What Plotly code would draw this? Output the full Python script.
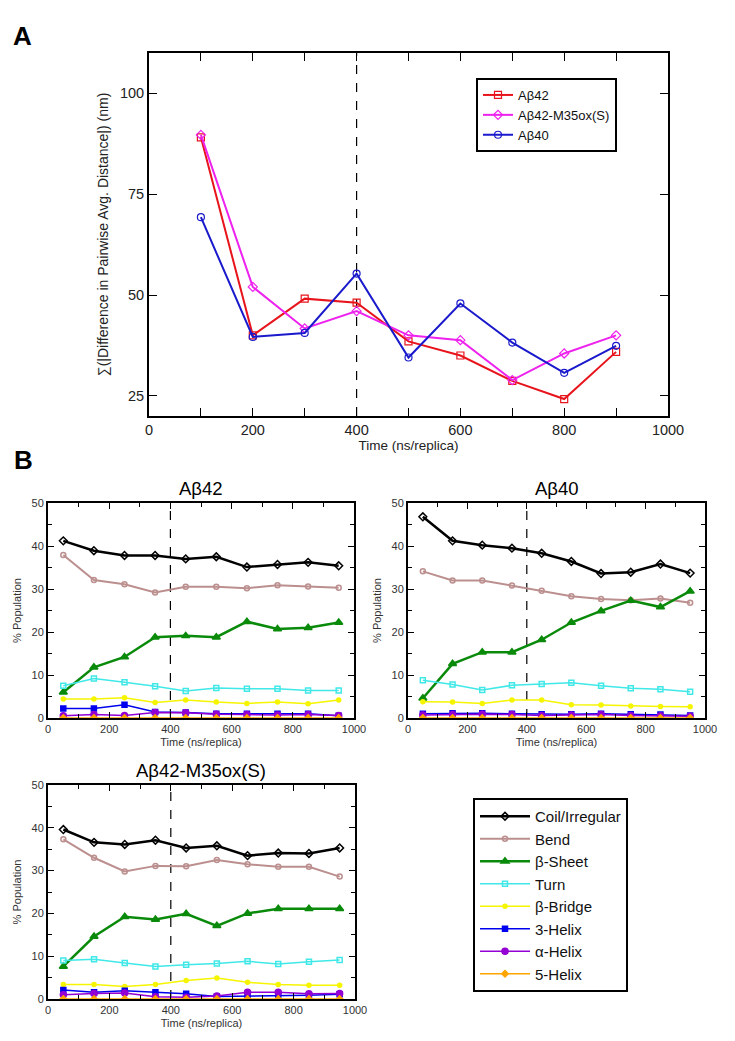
import plotly.graph_objects as go

# ---------------- Panel A data ----------------
a_time = [100, 200, 300, 400, 500, 600, 700, 800, 900]
a_ab42 = [89.1, 40.0, 49.1, 48.1, 38.5, 35.0, 28.7, 24.2, 35.9]
a_m35 = [89.7, 52.0, 41.7, 46.0, 40.0, 38.8, 28.9, 35.5, 40.0]
a_ab40 = [69.3, 39.6, 40.6, 55.3, 34.5, 47.9, 38.2, 30.7, 37.4]

# ---------------- Panel B data ----------------
b_time = [50, 150, 250, 350, 450, 550, 650, 750, 850, 950]

ab42 = {
    "Coil/Irregular": [41.2, 38.9, 37.8, 37.8, 37.0, 37.5, 35.1, 35.7, 36.2, 35.4],
    "Bend": [37.9, 32.1, 31.1, 29.2, 30.5, 30.5, 30.2, 30.9, 30.6, 30.3],
    "β-Sheet": [6.0, 11.8, 14.2, 18.8, 19.1, 18.8, 22.4, 20.7, 21.0, 22.2],
    "Turn": [7.5, 9.2, 8.3, 7.4, 6.3, 7.0, 6.8, 6.8, 6.4, 6.4],
    "β-Bridge": [4.4, 4.4, 4.7, 3.6, 4.2, 3.7, 3.4, 3.7, 3.3, 4.2],
    "3-Helix": [2.2, 2.2, 3.1, 1.4, 1.3, 1.0, 1.0, 1.0, 1.0, 0.5],
    "α-Helix": [0.5, 0.8, 0.6, 1.3, 1.2, 0.9, 0.8, 0.7, 0.8, 0.6],
    "5-Helix": [0.0, 0.0, 0.0, 0.0, 0.0, 0.0, 0.0, 0.0, 0.0, 0.0],
}
ab40 = {
    "Coil/Irregular": [46.8, 41.2, 40.2, 39.5, 38.3, 36.4, 33.6, 33.9, 35.8, 33.7],
    "Bend": [34.1, 32.0, 32.0, 30.8, 29.6, 28.3, 27.7, 27.4, 27.8, 26.8],
    "β-Sheet": [4.6, 12.6, 15.3, 15.3, 18.2, 22.2, 24.9, 27.3, 25.8, 29.5],
    "Turn": [8.8, 7.8, 6.5, 7.6, 7.9, 8.2, 7.5, 6.9, 6.7, 6.1],
    "β-Bridge": [3.8, 3.7, 3.4, 4.2, 4.2, 3.1, 3.0, 2.8, 2.7, 2.6],
    "3-Helix": [1.0, 1.1, 1.1, 1.0, 0.9, 0.9, 1.0, 0.9, 0.8, 0.6],
    "α-Helix": [0.7, 0.8, 0.9, 0.8, 0.6, 0.7, 0.8, 0.6, 0.5, 0.4],
    "5-Helix": [0.0, 0.0, 0.0, 0.0, 0.0, 0.0, 0.0, 0.0, 0.0, 0.0],
}
m35 = {
    "Coil/Irregular": [39.6, 36.6, 36.1, 37.1, 35.3, 35.8, 33.5, 34.1, 34.0, 35.3],
    "Bend": [37.3, 33.0, 29.8, 31.1, 31.0, 32.5, 31.5, 30.9, 30.9, 28.6],
    "β-Sheet": [7.6, 14.6, 19.2, 18.6, 19.9, 17.1, 20.0, 21.1, 21.1, 21.1],
    "Turn": [9.0, 9.3, 8.4, 7.6, 8.0, 8.3, 8.8, 8.2, 8.7, 9.1],
    "β-Bridge": [3.4, 3.4, 2.9, 3.4, 4.3, 4.9, 3.9, 3.4, 3.2, 3.2],
    "3-Helix": [2.1, 1.6, 1.9, 1.6, 1.2, 0.6, 0.7, 0.7, 0.9, 1.1],
    "α-Helix": [1.0, 1.3, 1.4, 0.5, 0.4, 0.7, 1.6, 1.6, 1.2, 1.3],
    "5-Helix": [0.0, 0.0, 0.0, 0.0, 0.0, 0.0, 0.0, 0.0, 0.0, 0.0],
}

ss_style = {
    "Coil/Irregular": dict(color="#000000", symbol="diamond-open", size=6, lw=2.5),
    "Bend": dict(color="#bc8f8f", symbol="circle-open", size=5, lw=2.0),
    "β-Sheet": dict(color="#0a8a0a", symbol="triangle-up", size=7, lw=2.5),
    "Turn": dict(color="#40e8e8", symbol="square-open", size=5, lw=1.5),
    "β-Bridge": dict(color="#f5f500", symbol="circle", size=4, lw=1.5),
    "3-Helix": dict(color="#0000ee", symbol="square", size=5, lw=1.5),
    "α-Helix": dict(color="#9400d3", symbol="circle", size=6, lw=1.5),
    "5-Helix": dict(color="#ffa500", symbol="diamond", size=5, lw=1.5),
}

W, H = 735, 1041
OFF = 8  # page body margin
FONT = "Liberation Sans, Arial, sans-serif"


def px_x(a):
    return (a - OFF) / W


def px_y(a):
    return 1 - (a - OFF) / H


def dx(a, b):
    return [px_x(a), px_x(b)]


def dy(top, bottom):
    return [px_y(bottom), px_y(top)]


fig = go.Figure()

# Panel A traces
for name, vals, color, sym in [
    ("Aβ42", a_ab42, "#e8141c", "square-open"),
    ("Aβ42-M35ox(S)", a_m35, "#ee22ee", "diamond-open"),
    ("Aβ40", a_ab40, "#1a1acc", "circle-open"),
]:
    fig.add_trace(go.Scatter(
        x=a_time, y=vals, name=name, mode="lines+markers",
        line=dict(color=color, width=2),
        marker=dict(symbol=sym, size=7, color=color, line=dict(width=1.2, color=color)),
        xaxis="x", yaxis="y", legend="legend",
    ))

# Panel B traces
for data, xa, ya, show in [(ab42, "x2", "y2", True), (ab40, "x3", "y3", False), (m35, "x4", "y4", False)]:
    for name, vals in data.items():
        st = ss_style[name]
        fig.add_trace(go.Scatter(
            x=b_time, y=vals, name=name, mode="lines+markers",
            line=dict(color=st["color"], width=st["lw"]),
            marker=dict(symbol=st["symbol"], size=st["size"], color=st["color"],
                        line=dict(width=1.5, color=st["color"])),
            xaxis=xa, yaxis=ya, legend="legend2", showlegend=show,
        ))

axis_common = dict(
    showline=True, linecolor="black", linewidth=2, mirror="allticks",
    ticks="inside", tickcolor="black", showgrid=False, zeroline=False,
    automargin=False,
)

fig.update_layout(
    template="none",
    width=W, height=H,
    margin=dict(l=0, r=0, t=0, b=0),
    paper_bgcolor="white", plot_bgcolor="white",
    font=dict(family=FONT, color="#222"),
    xaxis=dict(domain=dx(149, 668), range=[0, 1000], tickvals=[0, 200, 400, 600, 800, 1000],
               ticklen=8, tickwidth=1.2, minor=dict(dtick=100, ticks="inside", ticklen=8, tickcolor="black"),
               tickfont=dict(size=14.5, color="#222"),
               title=dict(text="Time (ns/replica)", font=dict(size=13.5), standoff=2),
               anchor="y", **axis_common),
    yaxis=dict(domain=dy(53, 416), range=[20, 110], tickvals=[25, 50, 75, 100],
               ticklen=8, tickwidth=1.2, tickfont=dict(size=14.5, color="#222"),
               title=dict(text="∑(|Difference in Pairwise Avg. Distance|) (nm)", font=dict(size=14), standoff=8),
               anchor="x", **axis_common),
    legend=dict(x=px_x(476), y=px_y(78), xanchor="left", yanchor="top",
                bordercolor="black", borderwidth=2, bgcolor="white",
                font=dict(size=13, color="#111"), tracegroupgap=0, itemwidth=30),
    legend2=dict(x=px_x(473), y=px_y(798), xanchor="left", yanchor="top",
                 bordercolor="black", borderwidth=2, bgcolor="white",
                 font=dict(size=15, color="#111"), tracegroupgap=0, itemwidth=50),
)

b_panels = [
    ("x2", "y2", dx(48, 354), dy(503, 718)),
    ("x3", "y3", dx(408, 705), dy(503, 718)),
    ("x4", "y4", dx(48, 355), dy(785, 999)),
]
for xa, ya, xd, yd in b_panels:
    xkey = "xaxis" + xa[1:]
    ykey = "yaxis" + ya[1:]
    fig.update_layout(**{
        xkey: dict(domain=xd, range=[0, 1000], tickvals=[0, 200, 400, 600, 800, 1000],
                   ticklen=6, tickwidth=1.2,
                   minor=dict(dtick=100, ticks="inside", ticklen=4, tickcolor="black"),
                   tickfont=dict(size=11, color="#333"),
                   title=dict(text="Time (ns/replica)", font=dict(size=11, color="#333"), standoff=4),
                   anchor=ya, **axis_common),
        ykey: dict(domain=yd, range=[0, 50], tickvals=[0, 10, 20, 30, 40, 50],
                   ticklen=6, tickwidth=1.2,
                   minor=dict(dtick=5, ticks="inside", ticklen=4, tickcolor="black"),
                   tickfont=dict(size=11, color="#333"),
                   title=dict(text="% Population", font=dict(size=11, color="#333"), standoff=8),
                   anchor=xa, **axis_common),
    })

# dashed vertical lines at 400
for xa, ya in [("x", "y"), ("x2", "y2"), ("x3", "y3"), ("x4", "y4")]:
    fig.add_shape(type="line", x0=400, x1=400, y0=0, y1=1, xref=xa, yref=ya + " domain",
                  line=dict(color="black", width=1.2, dash="dash"), layer="below")

# titles and panel letters
annots = [
    dict(text="<b>A</b>", x=px_x(11), y=px_y(36), size=26, xanchor="left"),
    dict(text="<b>B</b>", x=px_x(12), y=px_y(460), size=26, xanchor="left"),
    dict(text="Aβ42", x=px_x(201), y=px_y(488), size=18.5, xanchor="center"),
    dict(text="Aβ40", x=px_x(557), y=px_y(488), size=18.5, xanchor="center"),
    dict(text="Aβ42-M35ox(S)", x=px_x(201), y=px_y(770), size=18.5, xanchor="center"),
]
for a in annots:
    fig.add_annotation(text=a["text"], x=a["x"], y=a["y"], xref="paper", yref="paper",
                       xanchor=a["xanchor"], yanchor="middle", showarrow=False,
                       font=dict(size=a["size"], color="black", family=FONT))

fig.write_html("out.html")
